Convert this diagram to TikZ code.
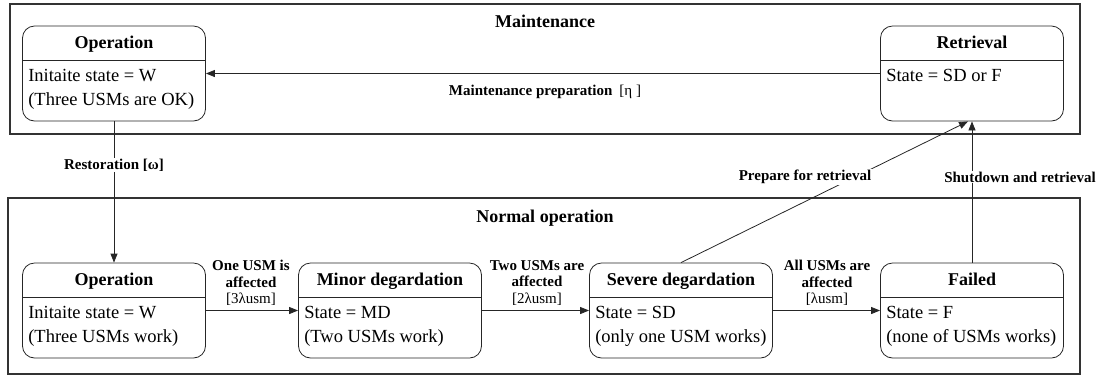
\documentclass[tikz,border=0pt]{standalone}
\usepackage{fontspec}
\setmainfont{Liberation Serif}
\usetikzlibrary{arrows.meta,calc}

\tikzset{
  frame/.style={draw=black!80, line width=1.4pt, inner sep=0pt},
  statebox/.style={draw=black!85, line width=0.8pt, rounded corners=12pt,
    minimum width=183pt, minimum height=95pt, inner sep=0pt},
  divider/.style={draw=black!85, line width=0.8pt},
  stitle/.style={font=\fontsize{18}{22}\selectfont\bfseries, anchor=base, inner sep=0pt},
  sbody/.style={font=\fontsize{18.5}{22}\selectfont, anchor=base west, inner sep=0pt},
  ftitle/.style={font=\fontsize{18}{22}\selectfont\bfseries, anchor=base, inner sep=0pt},
  trans/.style={draw=black!85, line width=0.8pt, -{Triangle[length=9pt,width=7pt]}},
  tlabel/.style={font=\fontsize{15}{16.5}\selectfont\bfseries, align=center, inner sep=1pt},
}

% state box: name, centre x, centre y, title
\newcommand\mkstate[4]{%
  \node[statebox] (#1) at (#2,#3) {};
  \draw[divider] ($(#1.west)+(0,-13)$) -- ($(#1.east)+(0,-13)$);
  \node[stitle] (#1-title) at ($(#1.north)+(0,23)$) {#4};
}

\begin{document}
\begin{tikzpicture}[x=1pt,y=-1pt]
\useasboundingbox (0,0) rectangle (1101,376);

% the two container regions
\node[frame, minimum width=1070pt, minimum height=130pt] (maint) at (545,69) {};
\node[ftitle] (maint-title) at (545,27) {Maintenance};
\node[frame, minimum width=1072pt, minimum height=176pt] (normal) at (544,286) {};
\node[ftitle] (normal-title) at (545,222) {Normal operation};

% maintenance states
\mkstate{opm}{114}{73.5}{Operation}
\node[sbody] (opm-l1) at ($(opm.north west)+(6,56)$) {Initaite state = W};
\node[sbody] (opm-l2) at ($(opm.north west)+(6,80)$) {(Three USMs are OK)};

\mkstate{ret}{972}{73.5}{Retrieval}
\node[sbody] (ret-l1) at ($(ret.north west)+(6,56)$) {State = SD or F};

% normal operation states
\mkstate{opn}{114}{310.5}{Operation}
\node[sbody] (opn-l1) at ($(opn.north west)+(6,56)$) {Initaite state = W};
\node[sbody] (opn-l2) at ($(opn.north west)+(6,80)$) {(Three USMs work)};

\mkstate{md}{390}{310.5}{Minor degardation}
\node[sbody] (md-l1) at ($(md.north west)+(6,56)$) {State = MD};
\node[sbody] (md-l2) at ($(md.north west)+(6,80)$) {(Two USMs work)};

\mkstate{sd}{681}{310.5}{Severe degardation}
\node[sbody] (sd-l1) at ($(sd.north west)+(6,56)$) {State = SD};
\node[sbody] (sd-l2) at ($(sd.north west)+(6,80)$) {(only one USM works)};

\mkstate{fl}{972}{310.5}{Failed}
\node[sbody] (fl-l1) at ($(fl.north west)+(6,56)$) {State = F};
\node[sbody] (fl-l2) at ($(fl.north west)+(6,80)$) {(none of USMs works)};

% transitions
\draw[trans] (ret.west) -- (opm.east);
\node[tlabel] (lmaint) at (545,92) {Maintenance preparation\hspace{7pt}{\mdseries[η ]}};

\draw[trans] (opm.south) -- (opn.north);
\node[tlabel, fill=white] (lrest) at (114,165) {Restoration [ω]};

\draw[trans] (opn.east) -- (md.west);
\node[tlabel] (l1) at (251,283) {One USM is\\affected\\{\mdseries[3λusm]}};

\draw[trans] (md.east) -- (sd.west);
\node[tlabel] (l2) at (537,283) {Two USMs are\\affected\\{\mdseries[2λusm]}};

\draw[trans] (sd.east) -- (fl.west);
\node[tlabel] (l3) at (827,283) {All USMs are\\affected\\{\mdseries[λusm]}};

\draw[trans] (sd.north) -- ($(ret.south)+(-4,0)$);
\node[tlabel, fill=white] (lprep) at (805,177) {Prepare for retrieval};

\draw[trans] (fl.north) -- (ret.south);
\node[tlabel, fill=white] (lshut) at (1020,177) {Shutdown and retrieval};
\end{tikzpicture}
\end{document}
